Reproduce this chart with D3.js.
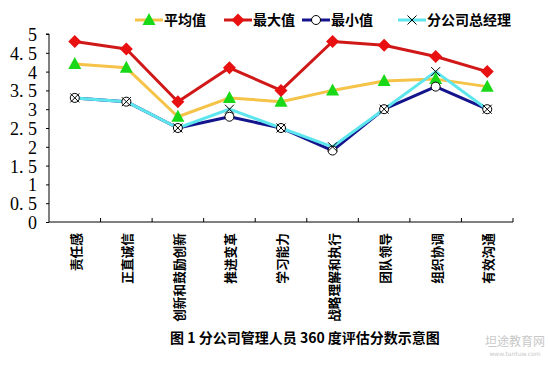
<!DOCTYPE html>
<html><head><meta charset="utf-8">
<script src="https://cdn.jsdelivr.net/npm/d3@7"></script>
<style>body{margin:0;background:#fff}svg{display:block}</style>
</head><body>
<svg id="c" width="548" height="365"></svg>
<script>
const categories = ["责任感","正直诚信","创新和鼓励创新","推进变革","学习能力","战略理解和执行","团队领导","组织协调","有效沟通"];
const avgValues = [4.2, 4.1, 2.8, 3.3, 3.2, 3.5, 3.75, 3.8, 3.6];
const maxValues = [4.8, 4.6, 3.2, 4.1, 3.5, 4.8, 4.7, 4.4, 4.0];
const minValues = [3.3, 3.2, 2.5, 2.8, 2.5, 1.9, 3.0, 3.6, 3.0];
const gmValues  = [3.3, 3.2, 2.5, 3.0, 2.5, 2.0, 3.0, 4.0, 3.0];
const seriesNames = ["平均值","最大值","最小值","分公司总经理"];
const yTicks = [0,0.5,1,1.5,2,2.5,3,3.5,4,4.5,5];
const yTickLabels = ["0","0. 5","1","1. 5","2","2. 5","3","3. 5","4","4. 5","5"];
const title = "图 1 分公司管理人员 360 度评估分数示意图";

const svg = d3.select("#c");
const L = 49, R = 513, T = 34, B = 222;
const x = d3.scaleBand().domain(categories).range([L, R]);
const y = d3.scaleLinear().domain([0,5]).range([B, T]);
const cx = c => x(c) + x.bandwidth()/2;

const series = [
  {name: seriesNames[0], values: avgValues, line: "#f4c348", marker: "tri"},
  {name: seriesNames[1], values: maxValues, line: "#d01818", marker: "dia"},
  {name: seriesNames[2], values: minValues, line: "#14148c", marker: "circ"},
  {name: seriesNames[3], values: gmValues, line: "#5ee6ee", marker: "x"}
];

// axes
const yAxis = d3.axisLeft(y).tickValues(yTicks).tickSize(3).tickFormat((d,i)=>yTickLabels[i]);
const gy = svg.append("g").attr("transform",`translate(${L},0)`).call(yAxis);
gy.select(".domain").attr("stroke","#000").attr("d",`M-3,${T}H0V${B}`);
gy.selectAll(".tick line").attr("stroke","#000");
gy.selectAll(".tick text").attr("x",-12).attr("dy","0.36em")
  .style("font-family","'Liberation Serif','DejaVu Serif',serif").style("font-size","18px").attr("fill","#000");

const xAxis = d3.axisBottom(x).tickSize(0).tickFormat("");
const gx = svg.append("g").attr("transform",`translate(0,${B})`).call(xAxis);
gx.select(".domain").attr("stroke","#000").attr("d",`M${L},0H${R}`);
const bounds = categories.map(c=>x(c)+x.bandwidth());
gx.selectAll("line.sep").data(bounds).enter().append("line").attr("class","sep")
  .attr("x1",d=>d).attr("x2",d=>d).attr("y1",0).attr("y2",-4).attr("stroke","#000");

// category labels
svg.append("g").selectAll("text").data(categories).enter().append("text")
  .attr("transform",d=>`translate(${cx(d)+6},${B+11}) rotate(-90)`)
  .attr("text-anchor","end")
  .style("font-family","'Noto Sans CJK SC',sans-serif").style("font-weight","bold").style("font-size","12.7px")
  .text(d=>d);

// lines
const lineGen = d3.line().x((d,i)=>cx(categories[i])).y(d=>y(d));
series.forEach(s=>{
  svg.append("path").datum(s.values).attr("d",lineGen).attr("fill","none")
    .attr("stroke",s.line).attr("stroke-width",3).attr("stroke-linejoin","round");
});

function drawMarker(g, type, px, py){
  if(type==="tri"){
    g.append("path").attr("d",`M${px},${py-7}L${px+6.5},${py+5}L${px-6.5},${py+5}Z`).attr("fill","#18d818");
  } else if(type==="dia"){
    g.append("path").attr("d",`M${px},${py-6.5}L${px+6.5},${py}L${px},${py+6.5}L${px-6.5},${py}Z`).attr("fill","#e81010");
  } else if(type==="circ"){
    g.append("circle").attr("cx",px).attr("cy",py).attr("r",4.5).attr("fill","#fff").attr("stroke","#000").attr("stroke-width",1);
  } else {
    g.append("path").attr("d",`M${px-4.5},${py-4.5}L${px+4.5},${py+4.5}M${px+4.5},${py-4.5}L${px-4.5},${py+4.5}`)
      .attr("stroke","#000").attr("stroke-width",1);
  }
}
const mg = svg.append("g");
series.forEach(s=>{
  s.values.forEach((v,i)=>drawMarker(mg, s.marker, cx(categories[i]), y(v)));
});

// legend
const legendX = [135, 224, 302, 398];
const lg = svg.append("g");
series.forEach((s,i)=>{
  const x0 = legendX[i];
  lg.append("line").attr("x1",x0).attr("x2",x0+28).attr("y1",20).attr("y2",20)
    .attr("stroke",s.line).attr("stroke-width",3);
  drawMarker(lg, s.marker, x0+14, 20);
  lg.append("text").attr("x",x0+29).attr("y",20).attr("dy","0.36em")
    .style("font-family","'Noto Sans CJK SC',sans-serif").style("font-weight","bold").style("font-size","14px")
    .text(s.name);
});

// title
svg.append("text").attr("x",305).attr("y",343).attr("text-anchor","middle")
  .style("font-family","'Noto Sans CJK SC',sans-serif").style("font-weight","bold").style("font-size","14px")
  .text(title);

// watermark
svg.append("text").attr("x",515).attr("y",346).attr("text-anchor","middle")
  .style("font-family","'Noto Sans CJK SC',sans-serif").style("font-size","12px").attr("fill","#c8c8c8")
  .text("坦途教育网");
svg.append("text").attr("x",515).attr("y",356).attr("text-anchor","middle")
  .style("font-family","'DejaVu Sans',sans-serif").style("font-size","6px").attr("fill","#c8c8c8")
  .text("www.tantuw.com");
</script>
</body></html>
